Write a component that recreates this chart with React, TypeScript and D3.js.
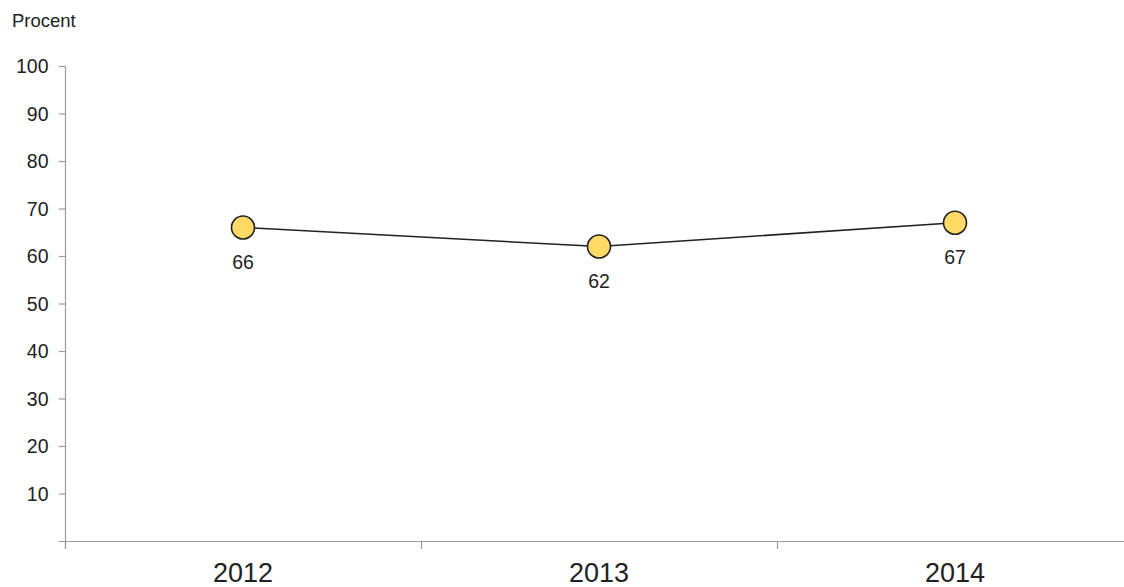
import React from "react";
import * as d3 from "d3";

const years = ["2012", "2013", "2014"];
const values = [66, 62, 67];
const yTicks = [10, 20, 30, 40, 50, 60, 70, 80, 90, 100];
const yLabel = "Procent";

export default function App() {
  const W = 1124, H = 587;
  const x = d3.scaleBand<string>().domain(years).range([65, 1133]);
  const y = d3.scaleLinear().domain([0, 100]).range([541, 66]);
  const line = d3.line<number>()
    .x((_, i) => (x(years[i]) as number) + x.bandwidth() / 2)
    .y((d) => y(d));
  const font = "'Liberation Sans', Arial, sans-serif";
  const axisColor = "#9a9a9a";
  const xTickPos = [...years.map((c) => x(c) as number)];
  return (
    <svg width={W} height={H} style={{ position: "absolute", left: 0, top: 0, background: "#fff" }} fontFamily={font}>
      <text x={12} y={27} fontSize={18.5} fill="#222">{yLabel}</text>
      {/* y axis */}
      <line x1={65.5} x2={65.5} y1={y(100)} y2={549} stroke={axisColor} strokeWidth={1.2} />
      {yTicks.map((t) => (
        <g key={t}>
          <line x1={59} x2={65.5} y1={y(t) + 0.5} y2={y(t) + 0.5} stroke={axisColor} strokeWidth={1.2} />
          <text x={48.5} y={y(t)} dy="0.36em" textAnchor="end" fontSize={19.5} fill="#222">{t}</text>
        </g>
      ))}
      {/* x axis */}
      <line x1={59} x2={W} y1={y(0) + 0.5} y2={y(0) + 0.5} stroke={axisColor} strokeWidth={1.2} />
      {xTickPos.map((p, i) => (
        <line key={i} x1={p + 0.5} x2={p + 0.5} y1={y(0)} y2={549} stroke={axisColor} strokeWidth={1.2} />
      ))}
      {years.map((c) => (
        <text key={c} x={(x(c) as number) + x.bandwidth() / 2} y={582} textAnchor="middle" fontSize={27} fill="#222">{c}</text>
      ))}
      <path d={line(values) || ""} fill="none" stroke="#222" strokeWidth={1.5} />
      {values.map((v, i) => {
        const cx = (x(years[i]) as number) + x.bandwidth() / 2;
        return (
          <g key={i}>
            <circle cx={cx} cy={y(v)} r={11.5} fill="#FFD966" stroke="#222" strokeWidth={1.6} />
            <text x={cx} y={y(v) + 41} textAnchor="middle" fontSize={19.5} fill="#222">{v}</text>
          </g>
        );
      })}
    </svg>
  );
}
